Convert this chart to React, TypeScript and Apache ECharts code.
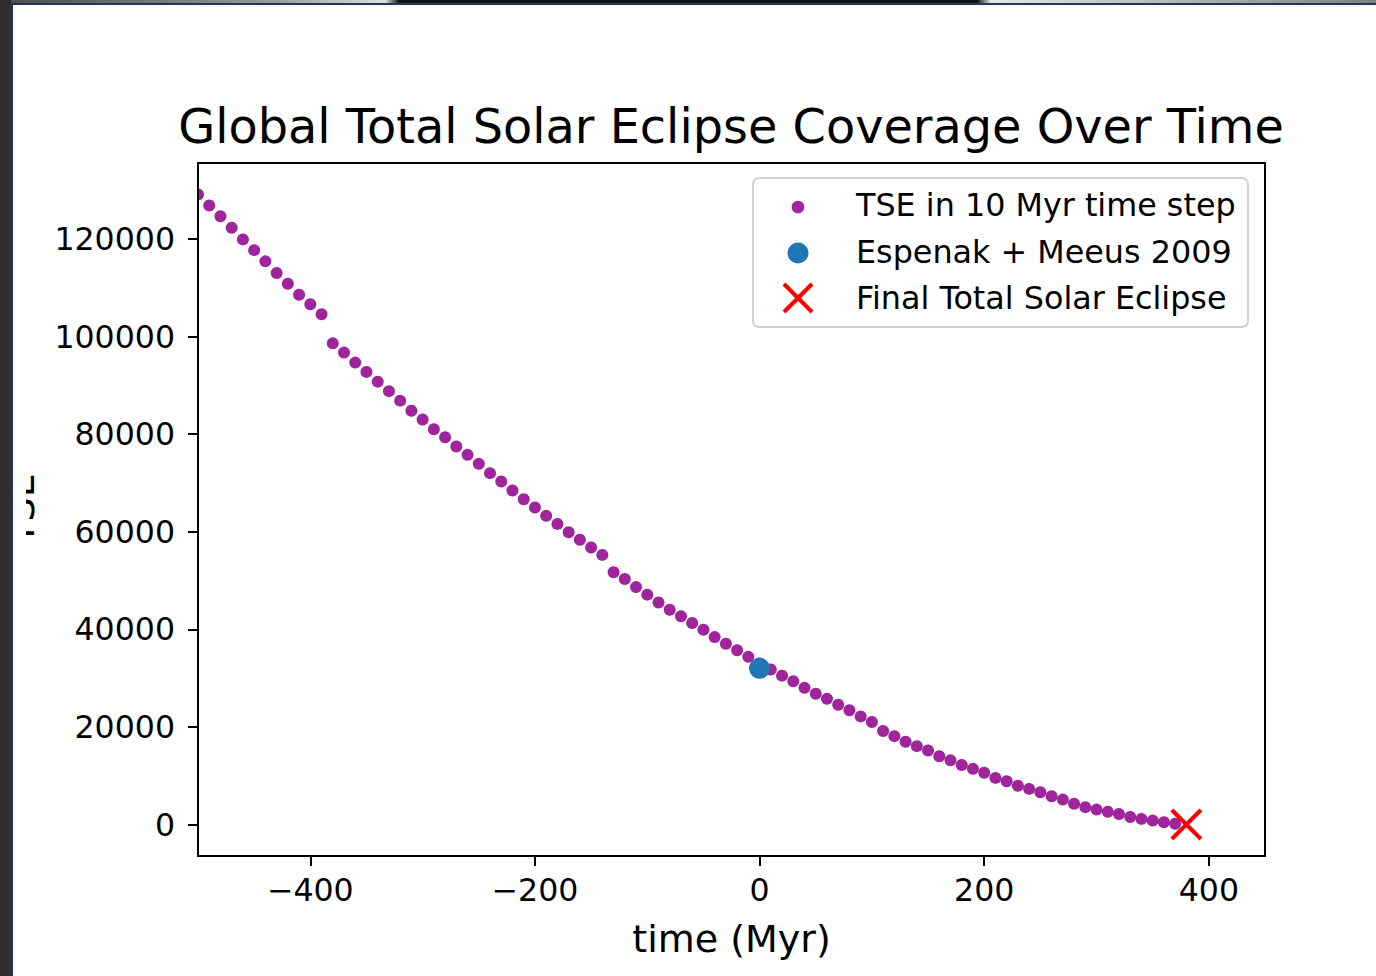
import React, { useEffect, useRef } from "react";
import * as echarts from "echarts";

// Time of each sample, Myr relative to present (10 Myr steps)
const timeMyr = [
  -500, -490, -480, -470, -460, -450, -440, -430, -420, -410,
  -400, -390, -380, -370, -360, -350, -340, -330, -320, -310,
  -300, -290, -280, -270, -260, -250, -240, -230, -220, -210,
  -200, -190, -180, -170, -160, -150, -140, -130, -120, -110,
  -100, -90, -80, -70, -60, -50, -40, -30, -20, -10,
  0, 10, 20, 30, 40, 50, 60, 70, 80, 90,
  100, 110, 120, 130, 140, 150, 160, 170, 180, 190,
  200, 210, 220, 230, 240, 250, 260, 270, 280, 290,
  300, 310, 320, 330, 340, 350, 360, 370,
];

// Number of total solar eclipses counted at each time step
const tseCounts = [
  129100, 126850, 124650, 122300, 119900, 117700, 115400, 113000, 110800, 108550,
  106600, 104550, 98600, 96700, 94650, 92750, 90750, 88800, 86850, 84800,
  83000, 81000, 79350, 77450, 75750, 73900, 72000, 70300, 68450, 66650,
  64950, 63250, 61600, 59900, 58350, 56750, 55250, 51700, 50300, 48650,
  47100, 45500, 44000, 42650, 41300, 39900, 38400, 37050, 35700, 34350,
  33000, 31750, 30500, 29350, 28000, 26800, 25750, 24550, 23400, 22150,
  21000, 19150, 18100, 16950, 16050, 15150, 14000, 13150, 12200, 11400,
  10600, 9550, 8850, 7950, 7300, 6600, 5800, 5100, 4250, 3550,
  3050, 2600, 2150, 1550, 1150, 800, 450, 150,
];

const espenakPoint = [0, 32000];
const finalEclipse = [380, 0];

const seriesNames = [
  "TSE in 10 Myr time step",
  "Espenak + Meeus 2009",
  "Final Total Solar Eclipse",
];

const xTicks = [-400, -200, 0, 200, 400];
const yTicks = [0, 20000, 40000, 60000, 80000, 100000, 120000];
const xLimits = [-500, 450];

const FONT = "DejaVu Sans";
const PURPLE = "#a0249c";
const BLUE = "#1f77b4";
const RED = "#ff0000";

const withMinus = (v: number) => (v < 0 ? "\u2212" + Math.abs(v) : String(v));

export default function App() {
  const ref = useRef<HTMLDivElement>(null);

  useEffect(() => {
    const chart = echarts.init(ref.current!, null, { renderer: "svg" });

    // y limits: data range padded by 5% on each side
    const allY = [...tseCounts, espenakPoint[1], finalEclipse[1]];
    const lo = Math.min(...allY);
    const hi = Math.max(...allY);
    const pad = 0.05 * (hi - lo);

    const gridL = 198;
    const gridT = 163;
    const gridR = 1265;
    const gridB = 856;

    const text = (
      t: string,
      x: number,
      y: number,
      size: number,
      align: string,
      extra: any = {}
    ) => ({
      type: "text",
      x,
      y,
      z: 60,
      ...extra,
      style: {
        text: t,
        fontFamily: FONT,
        fontSize: size,
        fill: "#000",
        textAlign: align,
        textVerticalAlign: "middle",
      },
    });

    chart.setOption({
      animation: false,
      backgroundColor: "#ffffff",
      grid: {
        left: gridL,
        top: gridT,
        right: 1376 - gridR,
        bottom: 976 - gridB,
        show: false,
      },
      xAxis: {
        type: "value",
        min: xLimits[0],
        max: xLimits[1],
        axisLine: { show: false, onZero: false },
        splitLine: { show: false },
        axisTick: {
          show: true,
          inside: false,
          length: 10,
          lineStyle: { color: "#000", width: 2 },
          customValues: xTicks,
        },
        axisLabel: {
          customValues: xTicks,
          formatter: withMinus,
          fontFamily: FONT,
          fontSize: 31.6,
          color: "#000",
          margin: 18,
        },
        name: "time (Myr)",
        nameLocation: "middle",
        nameGap: 64,
        nameTextStyle: { fontFamily: FONT, fontSize: 38, color: "#000" },
      },
      yAxis: {
        type: "value",
        min: lo - pad,
        max: hi + pad,
        axisLine: { show: false, onZero: false },
        splitLine: { show: false },
        axisTick: {
          show: true,
          inside: false,
          length: 10,
          lineStyle: { color: "#000", width: 2 },
          customValues: yTicks,
        },
        axisLabel: {
          customValues: yTicks,
          formatter: (v: number) => String(v),
          fontFamily: FONT,
          fontSize: 31.6,
          color: "#000",
          margin: 23,
        },
      },
      series: [
        {
          type: "scatter",
          name: seriesNames[0],
          data: timeMyr.map((t, i) => [t, tseCounts[i]]),
          symbolSize: 12,
          itemStyle: { color: PURPLE, opacity: 1 },
          clip: true,
          z: 2,
        },
        {
          type: "scatter",
          name: seriesNames[1],
          data: [espenakPoint],
          symbolSize: 21,
          itemStyle: { color: BLUE, opacity: 1 },
          z: 3,
        },
        {
          type: "scatter",
          name: seriesNames[2],
          data: [finalEclipse],
          symbol: "path://M0 0L20 20M20 0L0 20",
          symbolSize: 29,
          itemStyle: {
            color: "rgba(0,0,0,0)",
            borderColor: RED,
            borderWidth: 4,
            opacity: 1,
          },
          z: 4,
        },
      ],
      graphic: [
        // keep markers from spilling left of the axes
        {
          type: "rect",
          z: 40,
          shape: { x: 180, y: gridT, width: gridL - 180, height: 60 },
          style: { fill: "#ffffff" },
        },
        // axes frame
        {
          type: "rect",
          z: 50,
          shape: { x: gridL, y: gridT, width: gridR - gridL, height: gridB - gridT },
          style: { fill: "none", stroke: "#000", lineWidth: 2 },
        },
        // title
        text("Global Total Solar Eclipse Coverage Over Time", 731, 126, 47.8, "center"),
        // y-axis name
        text("TSE", 21, 509, 38, "center", { rotation: Math.PI / 2 }),
        // legend box
        {
          type: "rect",
          z: 55,
          shape: { x: 753, y: 178, width: 495, height: 149, r: 6 },
          style: { fill: "rgba(255,255,255,0.85)", stroke: "#d2d2d2", lineWidth: 2 },
        },
        {
          type: "circle",
          z: 58,
          shape: { cx: 798, cy: 207, r: 6.3 },
          style: { fill: PURPLE },
        },
        {
          type: "circle",
          z: 58,
          shape: { cx: 798, cy: 253, r: 10.5 },
          style: { fill: BLUE },
        },
        {
          type: "line",
          z: 58,
          shape: { x1: 784, y1: 284, x2: 812, y2: 312 },
          style: { stroke: RED, lineWidth: 4 },
        },
        {
          type: "line",
          z: 58,
          shape: { x1: 812, y1: 284, x2: 784, y2: 312 },
          style: { stroke: RED, lineWidth: 4 },
        },
        text(seriesNames[0], 856, 204, 31.8, "left"),
        text(seriesNames[1], 856, 251, 31.8, "left"),
        text(seriesNames[2], 856, 297, 31.8, "left"),
        // window chrome around the figure
        {
          type: "rect",
          z: 90,
          shape: { x: 13, y: 0, width: 13, height: 976 },
          style: { fill: "#ffffff" },
        },
        {
          type: "rect",
          z: 95,
          shape: { x: 0, y: 0, width: 1376, height: 3 },
          style: {
            fill: new echarts.graphic.LinearGradient(0, 0, 1, 0, [
              { offset: 0, color: "#4a4a4a" },
              { offset: 0.2, color: "#9a9a9a" },
              { offset: 0.28, color: "#e0e0e0" },
              { offset: 0.29, color: "#101018" },
              { offset: 0.71, color: "#101018" },
              { offset: 0.72, color: "#e6e6e6" },
              { offset: 1, color: "#808080" },
            ]),
          },
        },
        {
          type: "rect",
          z: 96,
          shape: { x: 0, y: 3, width: 1376, height: 2 },
          style: { fill: "#22375a" },
        },
        {
          type: "rect",
          z: 97,
          shape: { x: 0, y: 0, width: 11, height: 976 },
          style: { fill: "#2e2e2e" },
        },
        {
          type: "rect",
          z: 97,
          shape: { x: 11, y: 3, width: 2, height: 973 },
          style: { fill: "#22375a" },
        },
      ],
    });

    return () => chart.dispose();
  }, []);

  return (
    <div
      ref={ref}
      style={{ position: "fixed", left: 0, top: 0, width: 1376, height: 976 }}
    />
  );
}
